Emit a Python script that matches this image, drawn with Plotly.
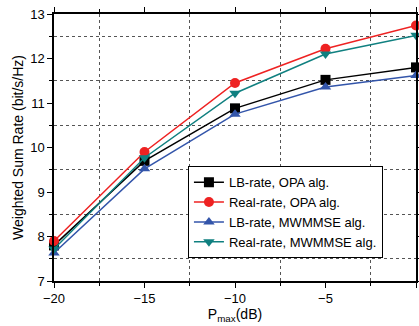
import plotly.graph_objects as go

x_db = [-20, -15, -10, -5, 0]
lb_opa = [7.80, 9.70, 10.88, 11.52, 11.80]
real_opa = [7.90, 9.90, 11.45, 12.22, 12.74]
lb_mwmmse = [7.63, 9.52, 10.75, 11.36, 11.62]
real_mwmmse = [7.72, 9.77, 11.22, 12.10, 12.52]

series = [
    ("LB-rate, OPA alg.", lb_opa, "#000000", "square"),
    ("Real-rate, OPA alg.", real_opa, "#ee2222", "circle"),
    ("LB-rate, MWMMSE alg.", lb_mwmmse, "#3355aa", "triangle-up"),
    ("Real-rate, MWMMSE alg.", real_mwmmse, "#108080", "triangle-down"),
]

fig = go.Figure()
for name, ys, col, sym in series:
    fig.add_trace(go.Scatter(x=x_db, y=ys, name=name, mode="lines+markers",
                             line=dict(color=col, width=1.5),
                             marker=dict(symbol=sym, size=10, color=col),
                             cliponaxis=False))

axis_common = dict(showline=True, linecolor="black", linewidth=1.5, mirror="ticks",
                   ticks="outside", ticklen=5, tickcolor="black", showgrid=False,
                   zeroline=False, automargin=False,
                   tickfont=dict(size=13, color="black", family="Arial"))

fig.update_xaxes(range=[-20, 0], dtick=5, tick0=-20,
                 minor=dict(dtick=2.5, tick0=-20, showgrid=True, gridcolor="#555",
                            griddash="dot", gridwidth=1, ticks="outside", ticklen=3, tickcolor="black"),
                 title=dict(text="P<sub>max</sub>(dB)", font=dict(size=14, color="black", family="Arial"), standoff=4),
                 **axis_common)
fig.update_yaxes(range=[7, 13], dtick=1, tick0=7,
                 minor=dict(dtick=0.5, tick0=7, showgrid=True, gridcolor="#555",
                            griddash="dot", gridwidth=1, ticks="outside", ticklen=3, tickcolor="black"),
                 title=dict(text="Weighted Sum Rate (bit/s/Hz)", font=dict(size=14, color="black", family="Arial"), standoff=3),
                 **axis_common)

fig.update_layout(width=419, height=326, margin=dict(l=54, r=3, t=14, b=45),
                  plot_bgcolor="white", paper_bgcolor="white",
                  font=dict(family="Arial", color="black"),
                  legend=dict(x=0.37, y=0.43, xanchor="left", yanchor="top",
                              bgcolor="white", bordercolor="black", borderwidth=1,
                              font=dict(size=13, color="black", family="Arial"),
                              tracegroupgap=0, itemwidth=30))

fig.write_html("out.html", config={"displayModeBar": False},
               post_script="document.body.style.margin='0';document.body.style.overflow='hidden';")
